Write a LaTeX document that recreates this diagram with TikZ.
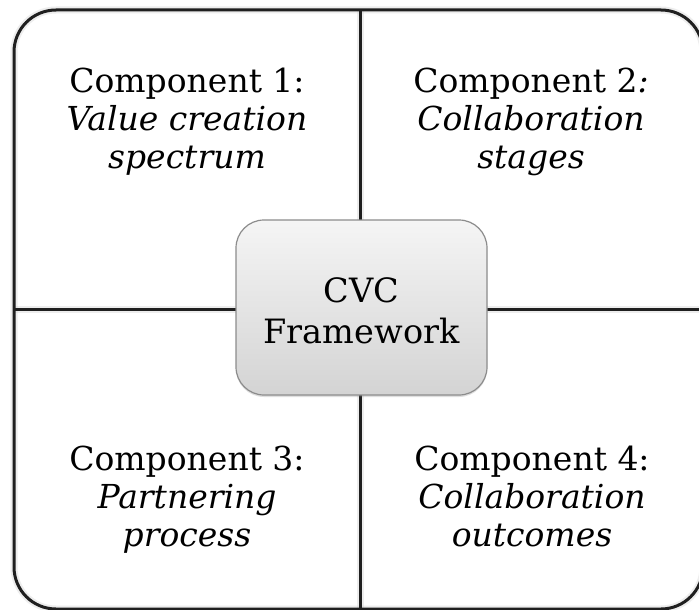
\documentclass[tikz,border=0pt]{standalone}
\usepackage{fontspec}
\setmainfont{DejaVu Serif}
\usetikzlibrary{shadows}
\begin{document}
\begin{tikzpicture}[x=1pt,y=-1pt,
  frameline/.style={line width=3pt, draw=black!88},
  glowline/.style={line width=7pt, draw=black!20, opacity=0.35},
  qtext/.style={align=center, anchor=base, inner sep=0pt, font=\fontsize{33}{38}\selectfont},
  ctext/.style={align=center, anchor=base, inner sep=0pt, font=\fontsize{33.5}{41}\selectfont},
  cbox/.style={draw=black!45, line width=1.2pt, rounded corners=28pt,
    top color=black!4, bottom color=black!17, minimum width=251pt, minimum height=175pt,
    drop shadow={shadow xshift=0pt, shadow yshift=-2pt, opacity=0.25}}]
\useasboundingbox (0,0) rectangle (699,610);
\clip (0,0) rectangle (699,610);
\fill[white] (0,0) rectangle (699,610);
% frame coordinates
\coordinate (vtop) at (360,10);
\coordinate (vbot) at (360,609);
\coordinate (hleft) at (14,309);
\coordinate (hright) at (703,309);
% soft glow under lines
\draw[glowline, rounded corners=42pt] (14,10) rectangle (703,609);
\draw[glowline] (vtop) -- (vbot);
\draw[glowline] (hleft) -- (hright);
% frame
\draw[frameline, rounded corners=42pt] (14,10) rectangle (703,609);
\draw[frameline] (vtop) -- (vbot);
\draw[frameline] (hleft) -- (hright);
% center box
\node[cbox] (cvcbox) at (361.5,307.5) {};
\node[ctext] (cvclabel) at (361.5,343) {CVC\\Framework};
% quadrant texts (anchored at last baseline)
\node[qtext] (q1) at (187,168) {Component 1:\\\textit{Value creation}\\\textit{spectrum}};
\node[qtext] (q2) at (531,168) {Component 2\textit{:}\\\textit{Collaboration}\\\textit{stages}};
\node[qtext] (q3) at (187,546) {Component 3:\\\textit{Partnering}\\\textit{process}};
\node[qtext] (q4) at (532,546) {Component 4:\\\textit{Collaboration}\\\textit{outcomes}};
\end{tikzpicture}
\end{document}
